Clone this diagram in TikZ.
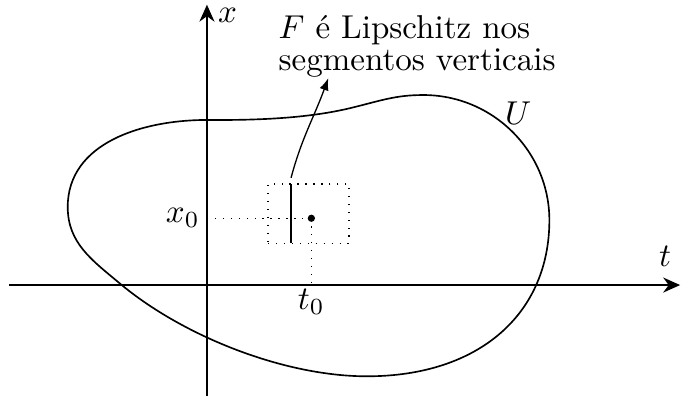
\documentclass[tikz,border=0pt]{standalone}
\usepackage{amsmath,amssymb}
\usepackage{tikz}
\usetikzlibrary{arrows.meta,positioning,calc}

\begin{document}
\begin{tikzpicture}[
    axis/.style={-{Stealth[length=1.8mm,width=1.6mm]}, line width=0.6pt},
    region/.style={line width=0.5pt},
    guide/.style={dotted},
    box/.style={rectangle, draw, dotted, inner sep=0pt, minimum width=0.86cm, minimum height=0.63cm},
    callout/.style={-{Latex[length=1.3mm]}},
    note/.style={inner sep=0pt, anchor=north west, align=left}
]
\useasboundingbox (-2.20,-1.20) rectangle (5.05,3.03);
% eixos
\coordinate (tL) at (-2.10,0);
\coordinate (tR) at (5.03,0);
\coordinate (xB) at (0,-1.18);
\coordinate (xT) at (0,2.98);
\draw[axis] (tL) -- (tR);
\draw[axis] (xB) -- (xT);
\node (tlab) at (4.87,0.30) {$t$};
\node (xlab) at (0.22,2.87) {$x$};
% o aberto U
\draw[region] (-1.48,0.83) to[out=90,in=180] (0,1.755)
    .. controls (0.6,1.75) and (1.1,1.78) .. (1.52,1.88)
    .. controls (1.85,1.96) and (2.0,2.02) .. (2.30,2.02)
    .. controls (3.04,2.02) and (3.64,1.42) .. (3.64,0.69)
    .. controls (3.64,-0.30) and (2.90,-0.97) .. (1.70,-0.97)
    to[out=180,in=-40,looseness=0.8] (-0.93,0.02)
    to[out=140,in=-90] cycle;
\node (Ulab) at (3.31,1.83) {$U$};
% ponto (t0,x0)
\coordinate (p0) at (1.11,0.71);
\node[box] (nbhd) at (1.08,0.76) {};
\coordinate (segT) at (0.894,1.075);
\coordinate (segB) at (0.894,0.447);
\draw[line width=0.5pt] (segT) -- (segB);
\node[left, inner sep=2pt] (x0lab) at (0,0.71) {$x_0$};
\node[below, inner sep=1pt] (t0lab) at (1.11,0) {$t_0$};
\draw[guide] (x0lab.east) -- (p0);
\draw[guide] (p0) -- (t0lab.north);
\fill (p0) circle (1.1pt);
% legenda
\node[note] (txt) at (0.755,2.87) {$F$ é Lipschitz nos\\[-2.5pt]segmentos verticais};
\coordinate (segtop) at (0.894,1.14);
\coordinate (tip) at (1.29,2.20);
\draw[callout] (segtop) to[out=75,in=-110] (tip);
\end{tikzpicture}
\end{document}
